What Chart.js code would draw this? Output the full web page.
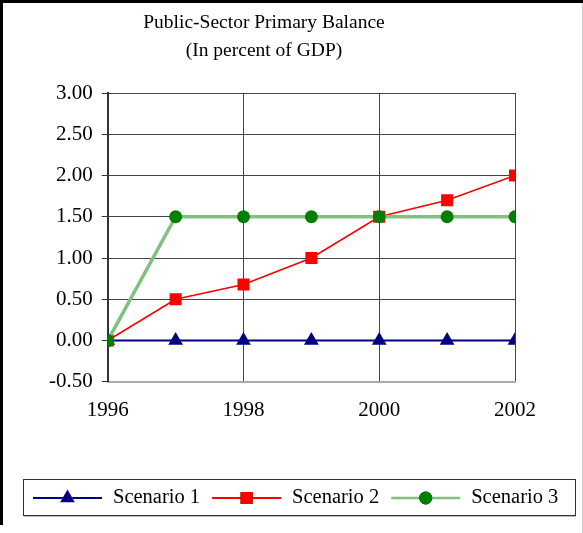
<!DOCTYPE html>
<html>
<head>
<meta charset="utf-8">
<script src="https://cdn.jsdelivr.net/npm/chart.js@4.4.1/dist/chart.umd.min.js"></script>
<style>
  body { margin: 0; background: #fff; }
  #wrap { width: 583px; height: 533px; }
</style>
</head>
<body>
<div id="wrap"><canvas id="chart" width="583" height="533"></canvas></div>
<script>
const years = [1996, 1997, 1998, 1999, 2000, 2001, 2002];
const scenario1 = [0, 0, 0, 0, 0, 0, 0];
const scenario2 = [0, 0.5, 0.68, 1.0, 1.5, 1.7, 2.0];
const scenario3 = [0, 1.5, 1.5, 1.5, 1.5, 1.5, 1.5];
const seriesNames = ['Scenario 1', 'Scenario 2', 'Scenario 3'];
const titleLines = ['Public-Sector Primary Balance', '(In percent of GDP)'];

const serif = "'Liberation Serif', 'Times New Roman', serif";

const toPoints = (vals) => years.map((x, i) => ({ x: x, y: vals[i] }));

// background, outer frame and the two-line title
const framePlugin = {
  id: 'frame',
  beforeDraw(chart) {
    const ctx = chart.ctx;
    ctx.save();
    ctx.fillStyle = '#fff';
    ctx.fillRect(0, 0, chart.width, chart.height);
    ctx.restore();
  },
  afterDraw(chart) {
    const ctx = chart.ctx;
    ctx.save();
    ctx.fillStyle = '#000';
    ctx.fillRect(0, 0, chart.width, 3);
    ctx.fillRect(0, 0, 3, chart.height - 8);
    ctx.fillStyle = '#ccc';
    ctx.fillRect(chart.width - 1, 3, 1, chart.height - 3);

    ctx.fillStyle = '#000';
    ctx.font = '19.5px ' + serif;
    ctx.textAlign = 'center';
    ctx.textBaseline = 'middle';
    ctx.fillText(titleLines[0], 264, 23);
    ctx.fillText(titleLines[1], 264, 51);
    ctx.restore();
  }
};

// boxed legend with line + marker samples
const legendPlugin = {
  id: 'boxLegend',
  afterDraw(chart) {
    const ctx = chart.ctx;
    const box = { l: 23, t: 479, r: 575, b: 515 };
    ctx.save();
    ctx.fillStyle = '#bbb';
    ctx.fillRect(box.l + 1, box.b, box.r - box.l, 2);
    ctx.fillStyle = '#fff';
    ctx.fillRect(box.l, box.t, box.r - box.l, box.b - box.t);
    ctx.strokeStyle = '#333';
    ctx.lineWidth = 1;
    ctx.strokeRect(box.l + 0.5, box.t + 0.5, box.r - box.l, box.b - box.t);

    const midY = (box.t + box.b) / 2 + 1;
    ctx.font = '20.5px ' + serif;
    ctx.textBaseline = 'middle';
    ctx.textAlign = 'left';
    let x = 33;
    chart.data.datasets.forEach((ds) => {
      const lineLen = 69;
      ctx.strokeStyle = ds.borderColor;
      ctx.lineWidth = ds.legendLineWidth;
      ctx.beginPath();
      ctx.moveTo(x, midY);
      ctx.lineTo(x + lineLen, midY);
      ctx.stroke();
      Chart.helpers.drawPoint(ctx, {
        pointStyle: ds.pointStyle,
        radius: ds.pointRadius,
        borderWidth: 0,
        rotation: 0
      }, x + lineLen / 2, midY);
      ctx.fillStyle = ds.pointBackgroundColor;
      ctx.strokeStyle = ds.pointBackgroundColor;
      ctx.fill();
      ctx.fillStyle = '#000';
      ctx.fillText(ds.label, x + lineLen + 11, midY);
      x += lineLen + 11 + ctx.measureText(ds.label).width + 12;
    });
    ctx.restore();
  }
};

new Chart(document.getElementById('chart'), {
  type: 'line',
  data: {
    datasets: [
      {
        label: seriesNames[0],
        data: toPoints(scenario1),
        borderColor: '#000080',
        borderWidth: 2,
        legendLineWidth: 2,
        pointStyle: 'triangle',
        pointRadius: 8.5,
        pointBackgroundColor: '#000080',
        pointBorderColor: '#000080',
        pointBorderWidth: 0,
        order: 2
      },
      {
        label: seriesNames[1],
        data: toPoints(scenario2),
        borderColor: '#ff0000',
        borderWidth: 1.6,
        legendLineWidth: 2,
        pointStyle: 'rect',
        pointRadius: 8.5,
        pointBackgroundColor: '#ff0000',
        pointBorderColor: '#ff0000',
        pointBorderWidth: 0,
        order: 1
      },
      {
        label: seriesNames[2],
        data: toPoints(scenario3),
        borderColor: '#80c080',
        borderWidth: 3.5,
        legendLineWidth: 2.5,
        pointStyle: 'circle',
        pointRadius: 6.5,
        pointBackgroundColor: '#008000',
        pointBorderColor: '#008000',
        pointBorderWidth: 0,
        order: 0
      }
    ]
  },
  options: {
    responsive: false,
    animation: false,
    layout: { padding: { top: 93, left: 40, right: 68, bottom: 94 } },
    plugins: {
      legend: { display: false },
      title: { display: false },
      tooltip: { enabled: false }
    },
    elements: { line: { tension: 0 } },
    scales: {
      x: {
        type: 'linear',
        min: 1996,
        max: 2002,
        ticks: {
          stepSize: 2,
          padding: 16,
          color: '#000',
          font: { family: serif, size: 21 },
          callback: (v) => String(v)
        },
        grid: { color: '#444', lineWidth: 1, drawTicks: false },
        border: { color: '#aaa', width: 2 }
      },
      y: {
        min: -0.5,
        max: 3,
        ticks: {
          stepSize: 0.5,
          padding: 9,
          color: '#000',
          font: { family: serif, size: 21 },
          callback: (v) => v.toFixed(2)
        },
        grid: { color: '#444', lineWidth: 1, tickLength: 6, tickColor: '#333' },
        border: { color: '#333', width: 2 }
      }
    }
  },
  plugins: [framePlugin, legendPlugin]
});
</script>
</body>
</html>
